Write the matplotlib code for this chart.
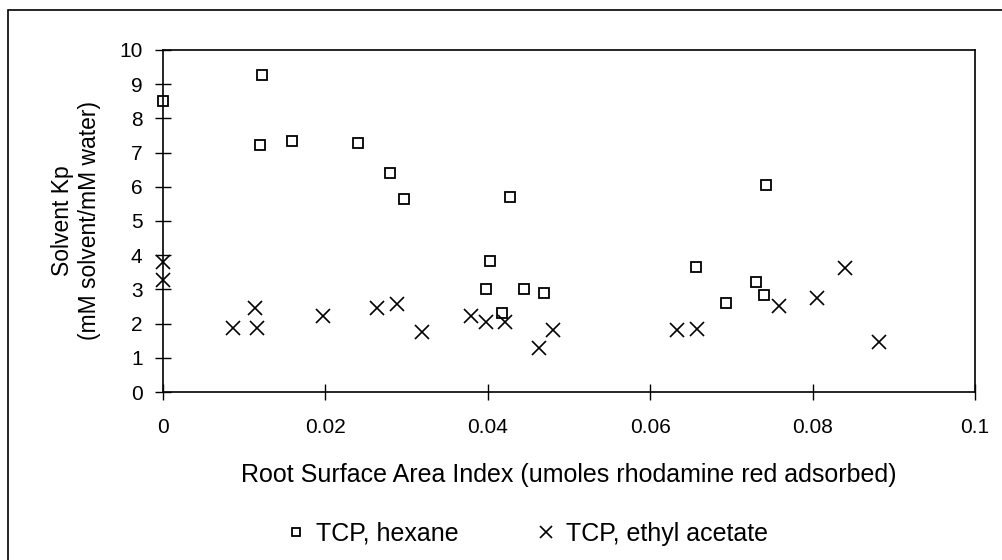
import matplotlib
matplotlib.use("Agg")
import matplotlib.pyplot as plt
from matplotlib.patches import Rectangle

plt.rcParams['font.family'] = ['Liberation Sans', 'DejaVu Sans']

# TCP extracted into hexane
hexane_x = [0.0, 0.0122, 0.0119, 0.0159, 0.0240, 0.0280, 0.0297, 0.0427,
            0.0403, 0.0398, 0.0445, 0.0469, 0.0418, 0.0656, 0.0693, 0.0743,
            0.0730, 0.0740]
hexane_y = [8.50, 9.27, 7.22, 7.34, 7.28, 6.40, 5.64, 5.70,
            3.83, 3.01, 3.01, 2.89, 2.31, 3.65, 2.60, 6.05,
            3.22, 2.84]

# TCP extracted into ethyl acetate
ethyl_x = [0.0, 0.0, 0.0086, 0.0113, 0.0116, 0.0197, 0.0264, 0.0288,
           0.0319, 0.0379, 0.0398, 0.0421, 0.0463, 0.0480, 0.0633, 0.0658,
           0.0759, 0.0805, 0.0840, 0.0882]
ethyl_y = [3.80, 3.27, 1.87, 2.46, 1.87, 2.22, 2.46, 2.57,
           1.76, 2.22, 2.04, 2.04, 1.29, 1.81, 1.81, 1.85,
           2.51, 2.75, 3.63, 1.46]

x_ticks = [0, 0.02, 0.04, 0.06, 0.08, 0.1]
x_labels = ['0', '0.02', '0.04', '0.06', '0.08', '0.1']
y_ticks = list(range(0, 11))

fig = plt.figure(figsize=(10.02, 5.6), dpi=100)
ax = fig.add_axes([163 / 1002, 168 / 560, 812 / 1002, 342 / 560])

ax.plot(hexane_x, hexane_y, ls='none', marker='s', ms=7.5, mfc='none',
        mec='black', mew=1.3, clip_on=False, label='TCP, hexane')
ax.plot(ethyl_x, ethyl_y, ls='none', marker='x', ms=10, mec='black',
        mew=1.2, clip_on=False, label='TCP, ethyl acetate')

ax.set_xlim(0, 0.1)
ax.set_ylim(0, 10)
ax.set_xticks(x_ticks)
ax.set_xticklabels(x_labels)
ax.set_yticks(y_ticks)
ax.tick_params(direction='inout', length=11.5, width=1, labelsize=15)
ax.tick_params(axis='y', pad=9)
ax.tick_params(axis='x', pad=13)
for s in ax.spines.values():
    s.set_linewidth(1.2)

ax.set_xlabel('Root Surface Area Index (umoles rhodamine red adsorbed)',
              fontsize=18, labelpad=19)
ax.set_ylabel('Solvent Kp\n(mM solvent/mM water)', fontsize=16.5,
              linespacing=1.25)
ax.yaxis.set_label_coords(-0.076, 0.5)

leg = fig.legend(loc='center left', bbox_to_anchor=(266 / 1002, 0.047),
                 ncol=2, frameon=False, fontsize=18, markerscale=0.8,
                 handlelength=0.6, handletextpad=0.5, columnspacing=3.2)

# outer border around the chart area
fig.patches.append(Rectangle((8 / 1002, -0.05), 1.1, 1 - 10 / 560 + 0.05,
                             transform=fig.transFigure, fill=False,
                             edgecolor='black', linewidth=1.2))

fig.savefig('out.png', dpi=100)
